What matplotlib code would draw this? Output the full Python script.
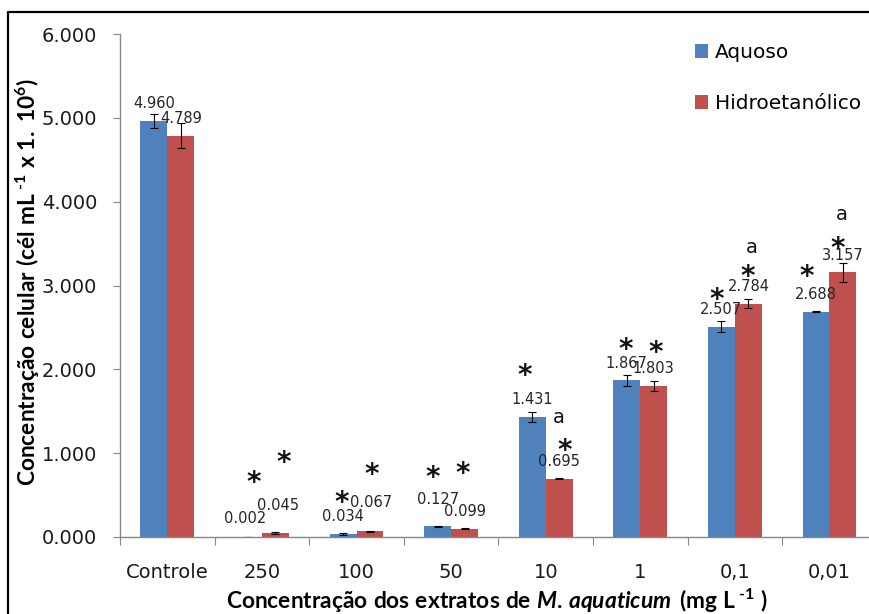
import matplotlib
matplotlib.use("Agg")
import matplotlib.pyplot as plt
from matplotlib.lines import Line2D
from matplotlib.ticker import FixedLocator, FuncFormatter, NullFormatter
from matplotlib.textpath import TextPath
from matplotlib.font_manager import FontProperties

# ---- data -------------------------------------------------------------
categories = ["Controle", "250", "100", "50", "10", "1", "0,1", "0,01"]
series_names = ["Aquoso", "Hidroetanólico"]
aquoso = [4.960, 0.002, 0.034, 0.127, 1.431, 1.867, 2.507, 2.688]
hidroetanolico = [4.789, 0.045, 0.067, 0.099, 0.695, 1.803, 2.784, 3.157]
aquoso_err = [0.080, 0.002, 0.008, 0.005, 0.060, 0.065, 0.065, 0.003]
hidroetanolico_err = [0.150, 0.012, 0.008, 0.006, 0.006, 0.060, 0.055, 0.117]
y_ticks = [0, 1, 2, 3, 4, 5, 6]

# significance marks: (category index, series index, symbol)
marks = [
    (1, 0, "*"), (1, 1, "*"),
    (2, 0, "*"), (2, 1, "*"),
    (3, 0, "*"), (3, 1, "*"),
    (4, 0, "*"), (4, 1, "*"), (4, 1, "a"),
    (5, 0, "*"), (5, 1, "*"),
    (6, 0, "*"), (6, 1, "*"), (6, 1, "a"),
    (7, 0, "*"), (7, 1, "*"), (7, 1, "a"),
]

# ---- layout (pixel offsets from the top centre of each bar) -----------
mark_offsets = [
    (5, 60), (8, 76),
    (-1, 37), (2, 63),
    (-5, 55), (-2, 61),
    (-8, 47), (6, 34), (0, 61),
    (-1, 37), (2, 39),
    (-5, 33), (-1, 33), (3, 56),
    (-9, 41), (-5, 30), (-1, 58),
]
label_offset_default = (0, 18)
label_offsets = {(1, 0): (-3, 19), (1, 1): (3, 29), (2, 1): (1, 30), (3, 0): (0, 28)}

W, H, DPI = 869, 614, 100
BLUE, RED = "#4F81BD", "#C0504D"
GRAY = "#868686"
TXT = "#262626"

plt.rcParams["font.family"] = ["DejaVu Sans"]
plt.rcParams["mathtext.fontset"] = "custom"
plt.rcParams["mathtext.rm"] = "Lato:bold"
plt.rcParams["mathtext.bf"] = "Lato:bold"
plt.rcParams["mathtext.it"] = "Lato:bold:italic"

fig = plt.figure(figsize=(W / DPI, H / DPI), dpi=DPI)
ax = fig.add_axes([120 / W, 77 / H, 756.8 / W, 503 / H])

n = len(categories)
xs = list(range(n))
bw = 0.285
values = [aquoso, hidroetanolico]
errors = [aquoso_err, hidroetanolico_err]
colors = [BLUE, RED]
shifts = [-bw / 2, bw / 2]

handles = []
for s in range(2):
    bc = ax.bar([x + shifts[s] for x in xs], values[s], bw, color=colors[s],
                edgecolor="none", label=series_names[s], zorder=2,
                yerr=errors[s], error_kw=dict(ecolor="black", elinewidth=0.8,
                                              capsize=2.6, capthick=0.8))
    handles.append(bc)

ax.set_xlim(-0.5, n - 0.5)
ax.set_ylim(0, 6)

for side in ("top", "right"):
    ax.spines[side].set_visible(False)
for side in ("left", "bottom"):
    ax.spines[side].set_color(GRAY)
    ax.spines[side].set_linewidth(1.0)

ax.set_yticks(y_ticks)
ax.yaxis.set_major_formatter(FuncFormatter(lambda v, p: f"{v:.3f}"))
ax.tick_params(axis="y", length=5, width=0.8, color=GRAY, labelsize=14,
               pad=11.5, labelcolor="#1a1a1a")

ax.set_xticks(xs)
ax.set_xticklabels(categories)
ax.xaxis.set_minor_locator(FixedLocator([x - 0.5 for x in range(n + 1)]))
ax.xaxis.set_minor_formatter(NullFormatter())
ax.tick_params(axis="x", which="major", length=0, labelsize=14, pad=18.5,
               labelcolor="#1a1a1a")
ax.tick_params(axis="x", which="minor", length=5.8, width=0.8, color=GRAY)


def ink_center(text, size_pt, prop):
    """Vertical centre of the glyph ink above the baseline, in pixels."""
    tp = TextPath((0, 0), text, size=size_pt * DPI / 72, prop=prop)
    ext = tp.get_extents()
    return (ext.y0 + ext.y1) / 2


# value labels
lab_size = 10.5
lab_prop = FontProperties(family="DejaVu Sans", size=lab_size)
for s in range(2):
    for i in xs:
        v = values[s][i]
        txt = f"{v:.3f}"
        dx, dy = label_offsets.get((i, s), label_offset_default)
        yc = ink_center(txt, lab_size, lab_prop)
        ax.annotate(txt, xy=(i + shifts[s], v), xytext=(dx, dy - yc),
                    textcoords="offset pixels", ha="center", va="baseline",
                    fontsize=lab_size, color=TXT, zorder=4)

# significance marks
star_size, a_size = 20, 14
star_prop = FontProperties(family="DejaVu Sans", weight="bold", size=star_size)
a_prop = FontProperties(family="DejaVu Sans", size=a_size)
for (i, s, sym), (dx, dy) in zip(marks, mark_offsets):
    if sym == "*":
        prop, size = star_prop, star_size
    else:
        prop, size = a_prop, a_size
    yc = ink_center(sym, size, prop)
    ax.annotate(sym, xy=(i + shifts[s], values[s][i]), xytext=(dx, dy - yc),
                textcoords="offset pixels", ha="center", va="baseline",
                fontproperties=prop, color="#111111", zorder=4)

# axis titles
fig.text(497.5 / W, 1 - 609 / H,
         r"$\mathrm{Concentração\ dos\ extratos\ de\ }\mathit{M.\,aquaticum}"
         r"\mathrm{\ \,(mg\ L}^{\text{ -1}}\mathrm{\ )}$",
         ha="center", va="baseline", fontsize=16.4, color="black")
fig.text(28 / W, 1 - 282 / H,
         r"$\mathrm{Concentração\ celular\ (cél\ mL}^{\text{ -1}}"
         r"\mathrm{\ x\ 1.\ 10}^{\mathrm{6}}\mathrm{)}$",
         ha="center", va="center", rotation=90, fontsize=16.4, color="black")

# legend
ax.legend(handles=handles, loc="upper left",
          bbox_to_anchor=(695 / W, 1 - 43 / H), bbox_transform=fig.transFigure,
          frameon=False, fontsize=14.5, handlelength=0.65, handleheight=0.65,
          handletextpad=0.35, labelspacing=1.6, borderpad=0, borderaxespad=0)

# outer frame
fig.add_artist(Line2D([8 / W, 8 / W, 1.0], [0.0, 1 - 12 / H, 1 - 12 / H],
                      transform=fig.transFigure, color="black", lw=1.6))

fig.savefig("out.png", dpi=DPI)
